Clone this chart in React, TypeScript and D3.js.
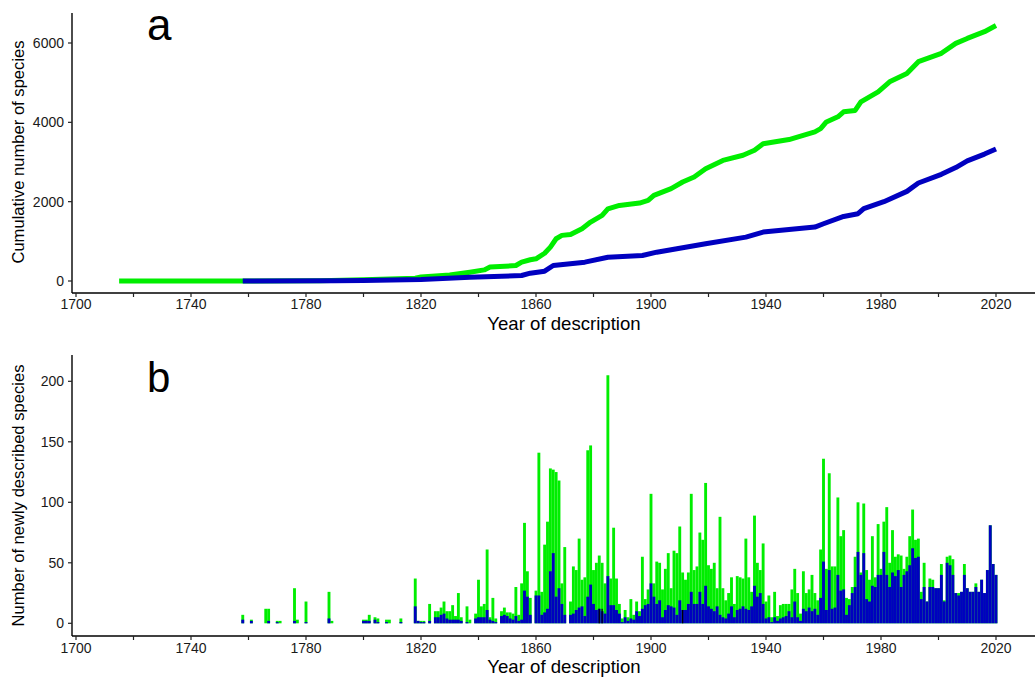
import React from "react";
import * as d3 from "d3";

// ---------- DATA ----------
// Cumulative number of species
const cumAllYears = [1715, 1758, 1785, 1800, 1818, 1820, 1830, 1837, 1842, 1844, 1853, 1855, 1858, 1860, 1863, 1865, 1867, 1869, 1872, 1876, 1879, 1883, 1885, 1889, 1896, 1899, 1901, 1907, 1911, 1915, 1919, 1925, 1932, 1936, 1939, 1948, 1957, 1959, 1961, 1965, 1967, 1971, 1973, 1979, 1983, 1989, 1993, 2001, 2006, 2010, 2016, 2020];
const cumAllValues = [0, 0, 5, 30, 70, 100, 150, 222, 280, 350, 390, 475, 535, 560, 700, 855, 1065, 1150, 1175, 1320, 1485, 1655, 1820, 1905, 1965, 2030, 2160, 2330, 2495, 2620, 2830, 3040, 3170, 3295, 3460, 3565, 3760, 3840, 4010, 4140, 4265, 4300, 4515, 4770, 5020, 5230, 5530, 5740, 5990, 6115, 6285, 6440];

const cumSubYears = [1758, 1790, 1800, 1820, 1837, 1855, 1858, 1863, 1866, 1877, 1885, 1897, 1902, 1919, 1933, 1939, 1957, 1960, 1967, 1972, 1974, 1981, 1989, 1993, 2001, 2006, 2010, 2016, 2020];
const cumSubValues = [0, 5, 10, 40, 96, 138, 197, 247, 390, 475, 600, 643, 727, 937, 1106, 1233, 1360, 1443, 1628, 1696, 1822, 2000, 2260, 2470, 2690, 2860, 3030, 3200, 3330];

// Newly described species per year (panel b)
const barYears = [1758, 1761, 1766, 1767, 1770, 1771, 1776, 1777, 1780, 1788, 1789, 1800, 1801, 1802, 1804, 1805, 1808, 1809, 1813, 1818, 1819, 1820, 1821, 1823, 1825, 1826, 1827, 1828, 1829, 1830, 1831, 1832, 1833, 1834, 1836, 1837, 1839, 1840, 1841, 1842, 1843, 1844, 1845, 1846, 1848, 1849, 1850, 1851, 1852, 1853, 1854, 1855, 1856, 1857, 1858, 1860, 1861, 1862, 1863, 1864, 1865, 1866, 1867, 1868, 1869, 1870, 1872, 1873, 1874, 1875, 1876, 1877, 1878, 1879, 1880, 1881, 1882, 1883, 1884, 1885, 1886, 1887, 1888, 1889, 1890, 1891, 1892, 1893, 1894, 1895, 1896, 1897, 1898, 1899, 1900, 1901, 1902, 1903, 1904, 1905, 1906, 1907, 1908, 1909, 1910, 1911, 1912, 1913, 1914, 1915, 1916, 1917, 1918, 1919, 1920, 1921, 1922, 1923, 1924, 1925, 1926, 1927, 1928, 1929, 1930, 1931, 1932, 1933, 1934, 1935, 1936, 1937, 1938, 1939, 1940, 1941, 1942, 1943, 1944, 1945, 1946, 1947, 1948, 1949, 1950, 1951, 1952, 1953, 1954, 1955, 1956, 1957, 1958, 1959, 1960, 1961, 1962, 1963, 1964, 1965, 1966, 1967, 1968, 1969, 1970, 1971, 1972, 1973, 1974, 1975, 1976, 1977, 1978, 1979, 1980, 1981, 1982, 1983, 1984, 1985, 1986, 1987, 1988, 1989, 1990, 1991, 1992, 1993, 1994, 1995, 1996, 1997, 1998, 1999, 2000, 2001, 2002, 2003, 2004, 2005, 2006, 2007, 2008, 2009, 2010, 2011, 2012, 2013, 2014, 2015, 2016, 2017, 2018, 2019, 2020];
const allCounts = [7, 3, 12, 12, 2, 2, 29, 3, 18, 26, 2, 3, 3, 7, 5, 4, 3, 3, 4, 37, 2, 2, 2, 16, 10, 10, 13, 18, 10, 10, 15, 6, 25, 5, 14, 3, 8, 36, 14, 16, 61, 5, 21, 4, 10, 13, 9, 9, 8, 30, 7, 33, 83, 43, 21, 27, 141, 26, 65, 84, 128, 127, 125, 118, 33, 63, 18, 47, 44, 70, 36, 38, 143, 147, 44, 50, 56, 50, 33, 205, 37, 79, 37, 16, 4, 11, 5, 20, 7, 18, 10, 55, 20, 28, 107, 33, 51, 50, 28, 45, 58, 29, 60, 58, 80, 42, 36, 42, 107, 44, 47, 75, 69, 116, 48, 45, 50, 29, 88, 29, 19, 25, 38, 16, 39, 38, 37, 70, 38, 26, 89, 50, 44, 66, 18, 23, 5, 26, 6, 15, 16, 16, 16, 28, 45, 25, 8, 43, 25, 28, 40, 25, 19, 61, 136, 45, 124, 47, 47, 104, 72, 77, 21, 20, 30, 55, 100, 42, 99, 44, 36, 72, 38, 82, 45, 84, 96, 50, 77, 55, 57, 56, 45, 55, 72, 94, 69, 70, 26, 50, 18, 37, 36, 29, 29, 49, 19, 55, 56, 53, 25, 25, 26, 49, 29, 26, 26, 33, 26, 36, 25, 44, 81, 49, 40];
const subCounts = [3, 2, 0, 2, 1, 0, 2, 0, 1, 4, 0, 2, 2, 2, 3, 1, 1, 0, 1, 14, 2, 1, 1, 2, 5, 5, 7, 8, 4, 3, 3, 3, 3, 2, 1, 0, 4, 5, 5, 5, 11, 3, 2, 1, 6, 7, 6, 4, 3, 6, 2, 3, 27, 22, 7, 23, 23, 7, 9, 12, 43, 58, 22, 29, 16, 7, 7, 8, 11, 13, 14, 6, 22, 32, 16, 11, 12, 10, 8, 39, 15, 15, 11, 8, 1, 5, 2, 4, 3, 10, 6, 12, 15, 16, 33, 22, 16, 19, 5, 11, 15, 14, 13, 7, 19, 11, 11, 16, 26, 16, 16, 26, 16, 31, 14, 12, 10, 14, 7, 5, 4, 8, 14, 5, 11, 12, 14, 12, 11, 14, 31, 22, 25, 16, 4, 5, 1, 5, 2, 4, 5, 6, 10, 5, 18, 5, 2, 12, 10, 13, 10, 12, 7, 21, 51, 11, 44, 12, 13, 40, 27, 28, 7, 15, 25, 30, 59, 40, 58, 20, 18, 31, 30, 40, 40, 59, 40, 30, 42, 39, 44, 30, 40, 43, 48, 62, 54, 55, 20, 30, 18, 30, 30, 29, 29, 40, 18, 50, 48, 40, 25, 23, 26, 40, 29, 26, 26, 30, 26, 36, 25, 44, 81, 49, 40];
const otherYears = [1882, 1883, 1911];
const otherCounts = [12, 12, 11];

const xTickYears = [1700, 1720, 1740, 1760, 1780, 1800, 1820, 1840, 1860, 1880, 1900, 1920, 1940, 1960, 1980, 2000, 2020];
const xLabelYears = [1700, 1740, 1780, 1820, 1860, 1900, 1940, 1980, 2020];
const yTicksTop = [0, 2000, 4000, 6000];
const yTicksBottom = [0, 50, 100, 150, 200];

const GREEN = "#00ee00";
const BLUE = "#0000c0";
const FONT = "'Liberation Sans', Arial, Helvetica, sans-serif";

export default function App() {
  const W = 1035, H = 678;
  const x = d3.scaleLinear().domain([1700, 2020]).range([76, 996]);
  const axisLeft = 72, axisRight = 1035;

  // panel a
  const yA = d3.scaleLinear().domain([0, 6000]).range([281, 43]);
  const aTop = 13, aBottom = 293;
  // panel b
  const yB = d3.scaleLinear().domain([0, 200]).range([623.3, 381.3]);
  const bTop = 355, bBottom = 636;

  const line = d3.line<[number, number]>().x(d => x(d[0])).y(d => d[1]);
  const greenPts: [number, number][] = cumAllYears.map((yr, i) => [yr, yA(cumAllValues[i])]);
  const bluePts: [number, number][] = cumSubYears.map((yr, i) => [yr, yA(cumSubValues[i])]);

  const bw = x(1701) - x(1700);

  const xAxis = (yAxisLine: number, labelBaseline: number, key: string) => (
    <g key={key}>
      <line x1={axisLeft} x2={axisRight} y1={yAxisLine} y2={yAxisLine} stroke="#000" strokeWidth={1.4} />
      {xTickYears.map(t => (
        <line key={t} x1={x(t)} x2={x(t)} y1={yAxisLine} y2={yAxisLine + 4} stroke="#222" strokeWidth={1.2} />
      ))}
      {xLabelYears.map(t => (
        <text key={"l" + t} x={x(t)} y={labelBaseline} textAnchor="middle" fontSize={14} fill="#1a1a1a" fontFamily={FONT}>{t}</text>
      ))}
    </g>
  );

  const yAxis = (scale: d3.ScaleLinear<number, number>, ticks: number[], top: number, bottom: number, key: string) => (
    <g key={key}>
      <line x1={axisLeft} x2={axisLeft} y1={top} y2={bottom} stroke="#000" strokeWidth={1.4} />
      {ticks.map(t => (
        <g key={t}>
          <line x1={axisLeft - 4} x2={axisLeft} y1={scale(t)} y2={scale(t)} stroke="#222" strokeWidth={1.2} />
          <text x={axisLeft - 8} y={scale(t)} dy="0.35em" textAnchor="end" fontSize={14} fill="#1a1a1a" fontFamily={FONT}>{t}</text>
        </g>
      ))}
    </g>
  );

  return (
    <div style={{ position: "absolute", left: 0, top: 0 }}>
      <svg width={W} height={H} style={{ display: "block", background: "#fff" }}>
        <rect x={0} y={0} width={W} height={H} fill="#fff" />
        {/* Panel a */}
        <path d={line(greenPts) || ""} fill="none" stroke={GREEN} strokeWidth={5} strokeLinejoin="round" />
        <path d={line(bluePts) || ""} fill="none" stroke={BLUE} strokeWidth={5} strokeLinejoin="round" />
        {yAxis(yA, yTicksTop, aTop, aBottom, "ya")}
        {xAxis(aBottom, 309, "xa")}
        <text x={147} y={40} fontSize={44} fontFamily={FONT} fill="#000">a</text>
        <text transform={`translate(24,152) rotate(-90)`} textAnchor="middle" fontSize={16.6} fontFamily={FONT} fill="#000">Cumulative number of species</text>
        <text x={564} y={330} textAnchor="middle" fontSize={18.6} fontFamily={FONT} fill="#000">Year of description</text>

        {/* Panel b */}
        <g>
          {barYears.map((yr, i) => (
            <rect key={"g" + yr} x={x(yr) - bw / 2} width={bw} y={yB(allCounts[i])} height={yB(0) - yB(allCounts[i])} fill={GREEN} />
          ))}
          {barYears.map((yr, i) => subCounts[i] > 0 ? (
            <rect key={"b" + yr} x={x(yr) - bw / 2} width={bw} y={yB(subCounts[i])} height={yB(0) - yB(subCounts[i])} fill={BLUE} />
          ) : null)}
          {otherYears.map((yr, i) => (
            <rect key={"k" + yr} x={x(yr) - 0.6} width={1.2} y={yB(otherCounts[i])} height={yB(0) - yB(otherCounts[i])} fill="#000" />
          ))}
        </g>
        {yAxis(yB, yTicksBottom, bTop, bBottom, "yb")}
        {xAxis(bBottom, 653, "xb")}
        <text x={147} y={392} fontSize={42} fontFamily={FONT} fill="#000">b</text>
        <text transform={`translate(24,${(bTop + bBottom) / 2}) rotate(-90)`} textAnchor="middle" fontSize={16.6} fontFamily={FONT} fill="#000">Number of newly described species</text>
        <text x={564} y={673} textAnchor="middle" fontSize={18.6} fontFamily={FONT} fill="#000">Year of description</text>
      </svg>
    </div>
  );
}
